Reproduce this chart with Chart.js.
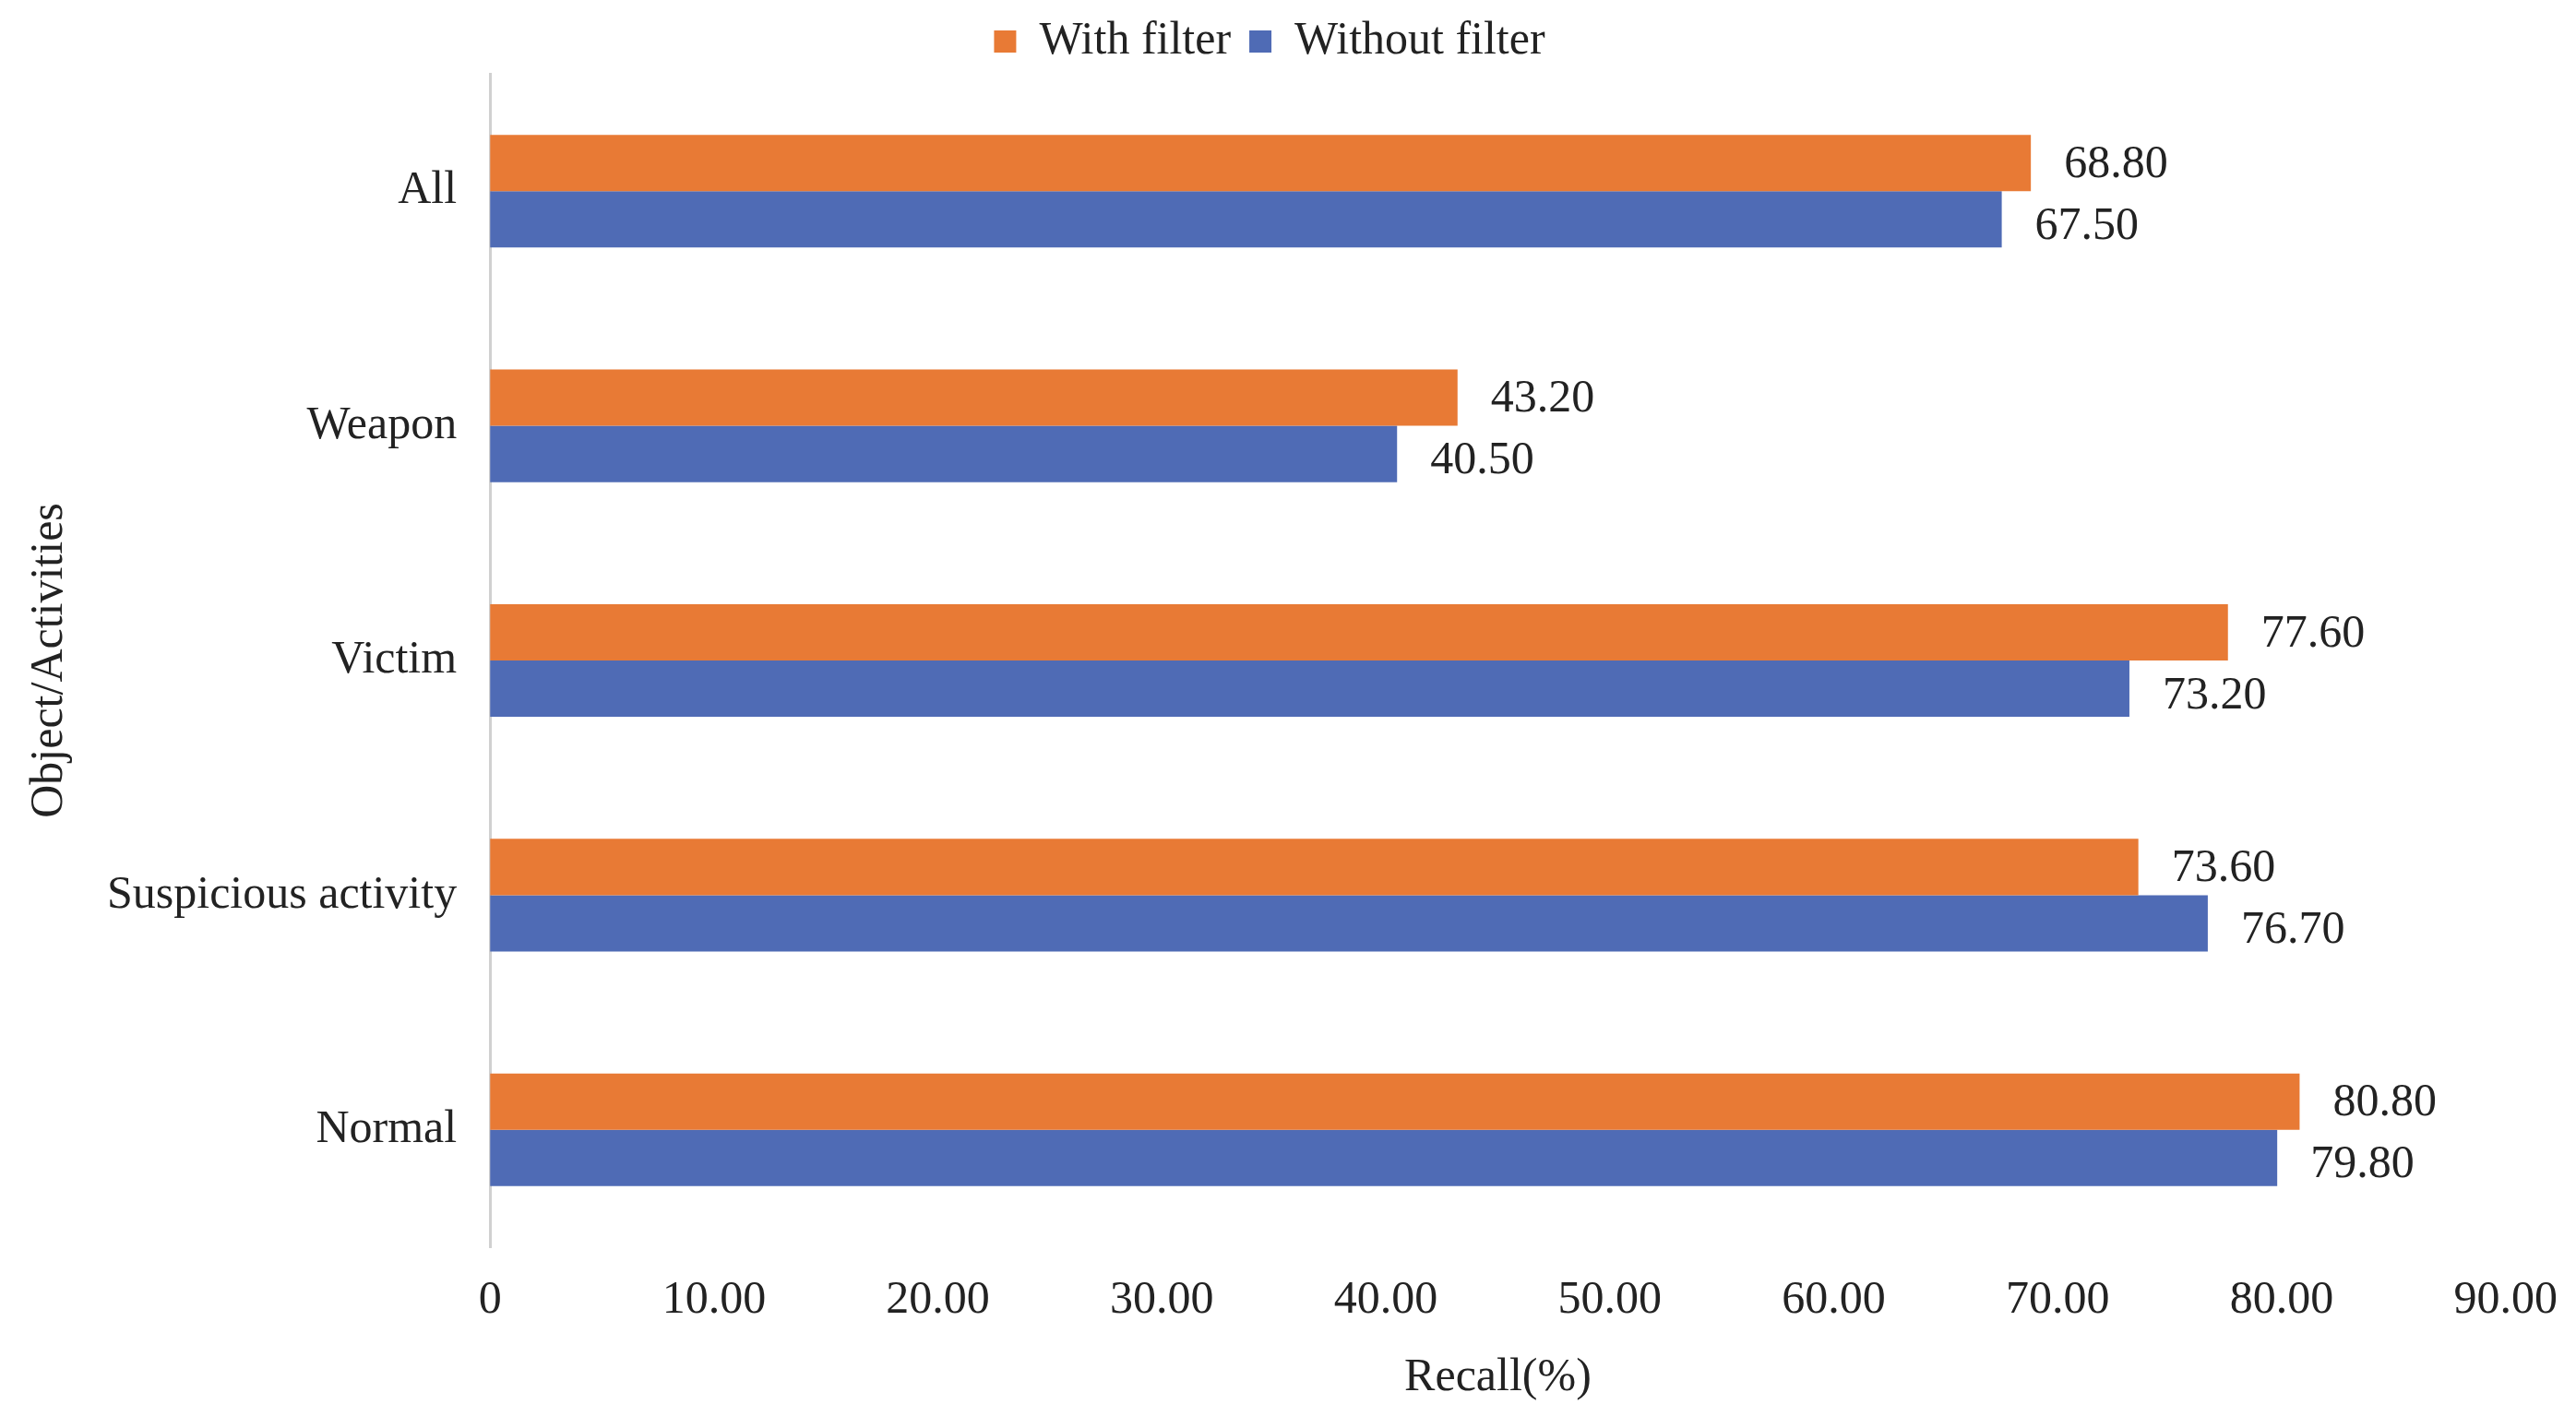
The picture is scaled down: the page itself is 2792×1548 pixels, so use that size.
<!DOCTYPE html>
<html><head><meta charset="utf-8">
<script src="https://cdn.jsdelivr.net/npm/chart.js@4"></script>
<style>html,body{margin:0;padding:0;background:#fff}#c{width:2792px;height:1548px}</style>
</head><body><div id="c"><canvas id="cv"></canvas></div>
<script>
const categories = ["All","Weapon","Victim","Suspicious activity","Normal"];
const withFilter = [68.8,43.2,77.6,73.6,80.8];
const withoutFilter = [67.5,40.5,73.2,76.7,79.8];
const F = "'Liberation Serif','Times New Roman',serif";
const labelPlugin = {id:'lbl',afterDatasetsDraw(chart){
  const ctx=chart.ctx; ctx.save(); ctx.font="50px "+F; ctx.fillStyle="#222"; ctx.textBaseline="middle";
  chart.data.datasets.forEach((ds,i)=>{chart.getDatasetMeta(i).data.forEach((b,j)=>{
    ctx.fillText(ds.data[j].toFixed(2), b.x+36, b.y+(i===0?2:8));});});
  ctx.restore();}};
new Chart(document.getElementById('cv'),{type:'bar',
 data:{labels:categories,datasets:[
  {label:'With filter',data:withFilter,backgroundColor:'#E87A35'},
  {label:'Without filter',data:withoutFilter,backgroundColor:'#4F6BB5'}]},
 options:{indexAxis:'y',responsive:true,maintainAspectRatio:false,animation:false,
  layout:{padding:{left:20,right:60,top:0,bottom:20}},
  datasets:{bar:{categoryPercentage:0.48,barPercentage:1}},
  plugins:{tooltip:{enabled:false},legend:{position:'top',labels:{font:{family:F,size:50},color:'#222',boxWidth:24,boxHeight:24,padding:20}}},
  scales:{
   x:{min:0,max:90,ticks:{stepSize:10,font:{family:F,size:50},color:'#222',padding:20,callback:v=>v===0?'0':v.toFixed(2)},
      grid:{display:false},border:{display:false},
      title:{display:true,text:'Recall(%)',font:{family:F,size:50},color:'#222'}},
   y:{ticks:{font:{family:F,size:50},color:'#222',padding:28},grid:{display:false},
      border:{display:true,color:'#d0d0d0',width:3},
      title:{display:true,text:'Object/Activities',font:{family:F,size:50},color:'#222'}}}},
 plugins:[labelPlugin]});
</script></body></html>
